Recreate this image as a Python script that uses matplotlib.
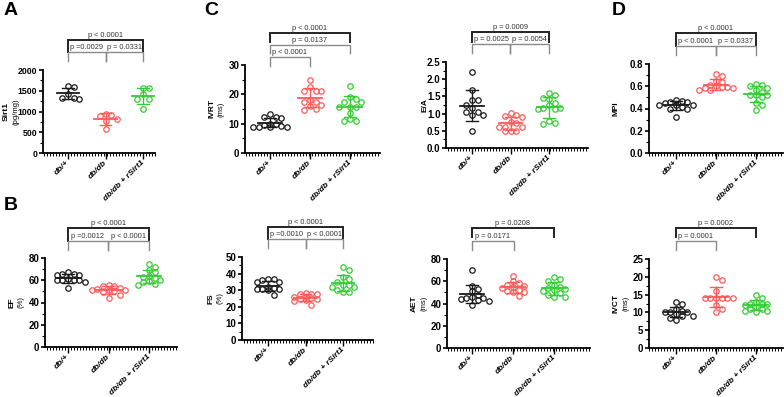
import numpy as np
import matplotlib
matplotlib.use("Agg")
import matplotlib.pyplot as plt
from matplotlib.ticker import MultipleLocator, AutoMinorLocator, FormatStrFormatter

plt.rcParams["font.family"] = ["Liberation Sans", "DejaVu Sans"]

W, H = 784, 397
groups = ["db/+", "db/db", "db/db + rSirt1"]
colors = ["#1a1a1a", "#FF5959", "#33CC33"]

# ---- data ----
sirt1_dbp = [1600, 1620, 1430, 1320, 1310, 1330]
sirt1_dbdb = [940, 900, 920, 830, 760, 580]
sirt1_rs = [1560, 1570, 1420, 1310, 1300, 1050]

ivrt_dbp = [13.2, 12.3, 12.3, 11.8, 10.0, 9.8, 9.5, 9.2, 9.0, 9.0, 8.9, 8.8]
ivrt_dbdb = [25, 22.5, 21.2, 21.2, 21.2, 18, 17.5, 17.5, 16.5, 16, 15, 14.5]
ivrt_rs = [23, 19, 18.5, 17.5, 17.5, 15.8, 15.8, 15.8, 13.5, 11.5, 11, 11]

ea_dbp = [2.2, 1.68, 1.4, 1.4, 1.25, 1.15, 1.05, 1.05, 0.95, 0.95, 0.5]
ea_dbdb = [1.02, 0.95, 0.92, 0.9, 0.75, 0.74, 0.62, 0.62, 0.6, 0.5, 0.48, 0.48]
ea_rs = [1.6, 1.55, 1.45, 1.42, 1.3, 1.25, 1.15, 1.15, 1.12, 1.12, 0.78, 0.72, 0.70]

mpi_dbp = [0.48, 0.47, 0.46, 0.46, 0.45, 0.43, 0.43, 0.43, 0.41, 0.40, 0.40, 0.32]
mpi_dbdb = [0.71, 0.69, 0.65, 0.64, 0.61, 0.60, 0.59, 0.59, 0.58, 0.58, 0.57, 0.57]
mpi_rs = [0.62, 0.61, 0.60, 0.58, 0.57, 0.55, 0.52, 0.52, 0.52, 0.50, 0.45, 0.43, 0.39]

ef_dbp = [67, 66, 65, 65, 66, 61, 60, 60, 60, 60, 58, 53]
ef_dbdb = [56, 55, 55, 53, 52, 51, 51, 51, 50, 49, 47, 44]
ef_rs = [75, 72, 69, 67, 64, 63, 62, 60, 59, 58, 57, 56]

fs_dbp = [37, 36.5, 36, 35, 35, 32, 31.5, 31, 31, 31, 30, 27]
fs_dbdb = [28.5, 28, 27.5, 27.5, 26, 26, 25.5, 25, 24.5, 24, 23.5, 21]
fs_rs = [44, 42, 38, 37, 35, 33, 33, 32, 32, 30, 29, 29]

aet_dbp = [70, 56, 53, 51, 48, 46, 45, 45, 44, 43, 42, 39]
aet_dbdb = [65, 60, 58, 57, 56, 55, 54, 52, 51, 50, 50, 47]
aet_rs = [64, 62, 60, 57, 55, 54, 53, 52, 51, 49, 48, 46, 46]

ivct_dbp = [13, 12.5, 11, 10.5, 10, 10, 10, 9.5, 9, 9, 8.5, 8]
ivct_dbdb = [20, 19, 16, 14, 14, 14, 14, 14, 14, 12, 11, 10]
ivct_rs = [15, 14, 13, 12.5, 12.5, 12.5, 12, 11.5, 11, 11, 10.5, 10.5, 10]

# ---- layout ----
fig = plt.figure(figsize=(W / 100, H / 100), dpi=100)
ov = fig.add_axes([0, 0, 1, 1], zorder=5)
ov.set_xlim(0, W)
ov.set_ylim(H, 0)
ov.axis("off")

panels = [
    dict(data=[sirt1_dbp, sirt1_dbdb, sirt1_rs], box=(43, 70, 155, 153), gx=(68, 106, 143),
         ylim=2000, step=500, fmt="%d", yl="Sirt1", unit="(pg/mg)", lx=(6.5, 16), tsz=6.3,
         br=[(0, 2, 40, 52, "p < 0.0001", True), (0, 1, 52, 61, "p =0.0029", False),
             (1, 2, 52, 61, "p = 0.0331", False)]),
    dict(data=[ivrt_dbp, ivrt_dbdb, ivrt_rs], box=(245, 65, 380, 153), gx=(270, 310, 350),
         ylim=30, step=10, fmt="%d", yl="IVRT", unit="(ms)", lx=(212, 221.5), tsz=7,
         br=[(0, 2, 33, 42, "p < 0.0001", True), (0, 2, 45, 53, "p = 0.0137", False),
             (0, 1, 57, 66, "p < 0.0001", False)]),
    dict(data=[ea_dbp, ea_dbdb, ea_rs], box=(446, 62, 588, 148), gx=(472, 510, 549),
         ylim=2.5, step=0.5, fmt="%.1f", yl="E/A", unit=None, lx=(425,), tsz=7,
         br=[(0, 2, 32, 42, "p = 0.0009", True), (0, 1, 44, 53, "p = 0.0025", False),
             (1, 2, 44, 53, "p = 0.0054", False)]),
    dict(data=[mpi_dbp, mpi_dbdb, mpi_rs], box=(649, 64, 783, 153), gx=(676, 716, 756),
         ylim=0.8, step=0.2, fmt="%.1f", yl="MPI", unit=None, lx=(616,), tsz=7,
         br=[(0, 2, 33, 46, "p < 0.0001", True), (0, 1, 46, 55, "p < 0.0001", False),
             (1, 2, 46, 55, "p = 0.0337", False)]),
    dict(data=[ef_dbp, ef_dbdb, ef_rs], box=(45, 258, 177, 347), gx=(68, 108, 149),
         ylim=80, step=20, fmt="%d", yl="EF", unit="(%)", lx=(12.5, 21.5), tsz=7,
         br=[(0, 2, 228, 241, "p < 0.0001", True), (0, 1, 241, 250, "p =0.0012", False),
             (1, 2, 241, 250, "p < 0.0001", False)]),
    dict(data=[fs_dbp, fs_dbdb, fs_rs], box=(242, 257, 373, 340), gx=(268, 306, 343),
         ylim=50, step=10, fmt="%d", yl="FS", unit="(%)", lx=(211, 220.5), tsz=7,
         br=[(0, 2, 227, 239, "p < 0.0001", True), (0, 1, 239, 248, "p =0.0010", False),
             (1, 2, 239, 248, "p < 0.0001", False)]),
    dict(data=[aet_dbp, aet_dbdb, aet_rs], box=(447, 259, 590, 348), gx=(472, 514, 554),
         ylim=80, step=20, fmt="%d", yl="AET", unit="(ms)", lx=(414.5, 424.5), tsz=7,
         br=[(0, 2, 228, 237, "p = 0.0208", True), (0, 1, 241, 250, "p = 0.0171", False)]),
    dict(data=[ivct_dbp, ivct_dbdb, ivct_rs], box=(649, 259, 783, 348), gx=(676, 716, 756),
         ylim=25, step=5, fmt="%d", yl="IVCT", unit="(ms)", lx=(616.5, 626.5), tsz=7,
         br=[(0, 2, 228, 237, "p = 0.0002", True), (0, 1, 241, 250, "p = 0.0001", False)]),
]

D_PX = 5.6  # marker diameter in px


def swarm(vals, ypx_per_unit, d, cap):
    order = np.argsort(vals)[::-1]
    placed = []
    offs = np.zeros(len(vals))
    cands = [0.0]
    k = 1
    while k * d <= cap + 1e-6:
        cands += [k * d, -k * d]
        k += 1
    for idx in order:
        y = vals[idx] * ypx_per_unit
        best, best_score = 0.0, None
        for c in cands:
            mind = min([np.hypot(px - c, py - y) for (px, py) in placed] or [1e9])
            if mind >= d * 0.95:
                best = c
                best_score = None
                break
            if best_score is None or mind > best_score:
                best, best_score = c, mind
        offs[idx] = best
        placed.append((best, y))
    return offs


for p in panels:
    l, t, r, b = p["box"]
    ax = fig.add_axes([l / W, 1 - b / H, (r - l) / W, (b - t) / H])
    g0, g1, g2 = p["gx"]
    s = (g2 - g0) / 2.0
    ax.set_xlim((l - g0) / s, (r - g0) / s)
    ax.set_ylim(0, p["ylim"])
    ypx = (b - t) / p["ylim"]
    for gi, vals in enumerate(p["data"]):
        v = np.array(vals, dtype=float)
        offs = swarm(v, ypx, D_PX, 0.42 * s) / s
        ax.plot(gi + offs, v, "o", mfc="none", mec=colors[gi], mew=0.9, ms=3.9,
                clip_on=False, zorder=3)
        m, sd = v.mean(), v.std(ddof=1)
        ax.plot([gi - 0.3, gi + 0.3], [m, m], color=colors[gi], lw=1.3, zorder=4)
        ax.plot([gi, gi], [m - sd, m + sd], color=colors[gi], lw=1.0, zorder=4)
        for yy in (m - sd, m + sd):
            ax.plot([gi - 0.15, gi + 0.15], [yy, yy], color=colors[gi], lw=1.0, zorder=4)
    for sp in ("top", "right"):
        ax.spines[sp].set_visible(False)
    for sp in ("left", "bottom"):
        ax.spines[sp].set_linewidth(1.3)
    ax.set_yticks(np.arange(0, p["ylim"] + p["step"] / 2, p["step"]))
    ax.yaxis.set_major_formatter(FormatStrFormatter(p["fmt"]))
    ax.yaxis.set_minor_locator(AutoMinorLocator(2))
    ax.set_xticks([0, 1, 2])
    ax.xaxis.set_minor_locator(MultipleLocator(3.0 / s))
    ax.tick_params(axis="y", which="major", length=3, width=1.2, labelsize=p["tsz"], pad=1)
    ax.tick_params(axis="y", which="minor", length=2, width=0.8)
    ax.tick_params(axis="x", which="major", length=4, width=1.0, pad=2)
    ax.tick_params(axis="x", which="minor", length=2, width=0.7)
    for lab in ax.get_yticklabels():
        lab.set_fontweight("bold")
    ax.set_xticklabels(groups, rotation=45, ha="right", va="center",
                       rotation_mode="anchor", fontsize=6, fontweight="bold",
                       fontstyle="italic")
    ym = (t + b) / 2
    ov.text(p["lx"][0], ym, p["yl"], rotation=90, ha="center", va="center",
            fontsize=6, fontweight="bold")
    if p["unit"]:
        ov.text(p["lx"][1], ym, p["unit"], rotation=90, ha="center", va="center",
                fontsize=5.5)
    for (i, j, yb, yleg, txt, main) in p["br"]:
        xi, xj = p["gx"][i], p["gx"][j]
        col = "#222222" if main else "#8a8a8a"
        lw = 1.4 if main else 1.0
        ov.plot([xi, xi, xj, xj], [yleg, yb, yb, yleg], color=col, lw=lw,
                solid_joinstyle="miter")
        ov.text((xi + xj) / 2, yb - 1, txt, ha="center", va="bottom", fontsize=5.3,
                color="#333333")

for letter, (x, y) in zip("ACDB", [(4, 2), (204, 2), (612, 2), (4, 197)]):
    ov.text(x, y, letter, ha="left", va="top", fontsize=14, fontweight="bold")

fig.savefig("out.png", dpi=100)
